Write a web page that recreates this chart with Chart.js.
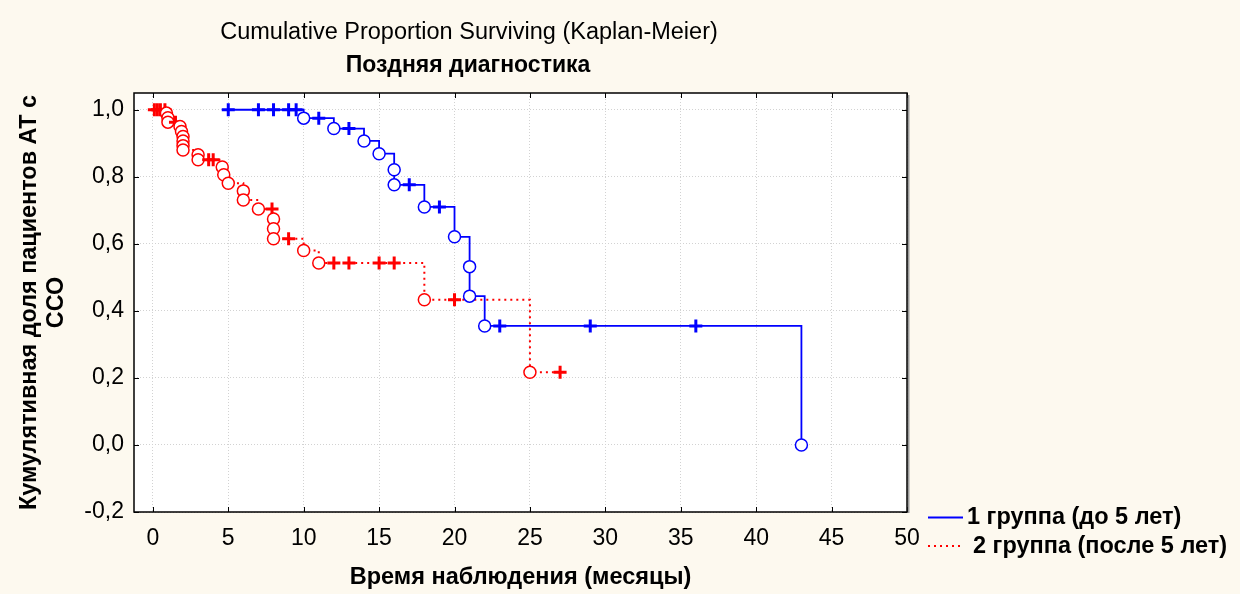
<!DOCTYPE html>
<html>
<head>
<meta charset="utf-8">
<script src="https://cdn.jsdelivr.net/npm/chart.js@4/dist/chart.umd.min.js"></script>
<style>
  html, body { margin: 0; padding: 0; background: #fdf9ef; }
  #wrap { width: 1240px; height: 594px; }
</style>
</head>
<body>
<div id="wrap"><canvas id="chartKM" width="1240" height="594"></canvas></div>
<script>
// Kaplan-Meier, поздняя диагностика
'use strict';

// 1 группа (до 5 лет): время, доля, 1 = цензурировано
var blueTime = [5, 7, 8, 9, 9.5, 10, 11, 12, 13, 14, 15, 16, 16, 17, 18, 19, 20, 21, 21, 22, 23, 29, 36, 43];
var blueSurv = [1, 1, 1, 1, 1, 0.975, 0.975, 0.944, 0.944, 0.907, 0.869, 0.821, 0.776, 0.776, 0.710, 0.710, 0.621, 0.532, 0.444, 0.355, 0.355, 0.355, 0.355, 0];
var blueCens = [1, 1, 1, 1, 1, 0, 1, 0, 1, 0, 0, 0, 0, 1, 0, 1, 0, 0, 0, 0, 1, 1, 1, 0];

// 2 группа (после 5 лет)
var redTime = [0.1, 0.3, 0.5, 0.8, 0.9, 1.0, 1.0, 1.5, 1.8, 1.9, 2, 2, 2, 2, 3, 3, 3.7, 4.0, 4.6, 4.7, 5.0, 6, 6, 7, 7.9, 8, 8, 8, 9, 10, 11, 12, 13, 15, 16, 18, 20, 25, 27];
var redSurv = [1, 1, 1, 1, 0.99, 0.976, 0.963, 0.963, 0.950, 0.935, 0.920, 0.907, 0.893, 0.880, 0.866, 0.851, 0.851, 0.851, 0.829, 0.806, 0.781, 0.758, 0.731, 0.704, 0.704, 0.674, 0.645, 0.615, 0.615, 0.580, 0.543, 0.543, 0.543, 0.543, 0.543, 0.433, 0.433, 0.217, 0.217];
var redCens = [1, 1, 1, 1, 0, 0, 0, 1, 0, 0, 0, 0, 0, 0, 0, 0, 1, 1, 0, 0, 0, 0, 0, 0, 1, 0, 0, 0, 1, 0, 0, 1, 1, 1, 1, 0, 1, 0, 1];

var xTicks = [0, 5, 10, 15, 20, 25, 30, 35, 40, 45, 50];
var yTicks = [-0.2, 0, 0.2, 0.4, 0.6, 0.8, 1.0];

var seriesNames = ['1 группа (до 5 лет)', '2 группа (после 5 лет)'];
var titleText = 'Cumulative Proportion Surviving (Kaplan-Meier)';
var subtitleText = 'Поздняя диагностика';
var xTitle = 'Время наблюдения (месяцы)';
var yTitle = ['Кумулятивная доля пациентов АТ с', 'ССО'];

var FONT = 'Arial, "Liberation Sans", sans-serif';

function toPoints(t, s) {
    return t.map(function (v, i) { return { x: v, y: s[i] }; });
}

function kmDataset(label, t, s, c, color, dash) {
    return {
        label: label,
        data: toPoints(t, s),
        borderColor: color,
        borderWidth: dash ? 2 : 1.8,
        borderDash: dash || [],
        stepped: 'before',
        fill: false,
        pointStyle: c.map(function (v) { return v ? 'cross' : 'circle'; }),
        pointRadius: c.map(function (v) { return v ? 6.5 : 6; }),
        pointBorderWidth: c.map(function (v) { return v ? 3 : 1.5; }),
        pointBorderColor: color,
        pointBackgroundColor: '#ffffff',
        pointHoverRadius: 6
    };
}

var bgPlugin = {
    id: 'bgPlugin',
    beforeDraw: function (chart) {
        var ctx = chart.ctx, a = chart.chartArea;
        ctx.save();
        ctx.fillStyle = '#fdf9ef';
        ctx.fillRect(0, 0, chart.width, chart.height);
        ctx.fillStyle = '#ffffff';
        ctx.fillRect(a.left, a.top, a.right - a.left, a.bottom - a.top);
        ctx.restore();
    }
};

var framePlugin = {
    id: 'framePlugin',
    afterDraw: function (chart) {
        var ctx = chart.ctx, a = chart.chartArea;
        var xs = chart.scales.x, ys = chart.scales.y;
        ctx.save();
        // ticks inside the frame
        ctx.strokeStyle = '#000';
        ctx.lineWidth = 1;
        ctx.beginPath();
        xTicks.forEach(function (v) {
            var px = Math.round(xs.getPixelForValue(v)) + 0.5;
            ctx.moveTo(px, a.top); ctx.lineTo(px, a.top + 5);
            ctx.moveTo(px, a.bottom); ctx.lineTo(px, a.bottom - 5);
        });
        yTicks.forEach(function (v) {
            var py = Math.round(ys.getPixelForValue(v)) + 0.5;
            ctx.moveTo(a.left, py); ctx.lineTo(a.left + 5, py);
            ctx.moveTo(a.right, py); ctx.lineTo(a.right - 5, py);
        });
        ctx.stroke();
        // shadow on the right
        ctx.strokeStyle = '#9a9a9a';
        ctx.lineWidth = 2;
        ctx.beginPath();
        ctx.moveTo(a.right + 1.5, a.top + 2);
        ctx.lineTo(a.right + 1.5, a.bottom + 1);
        ctx.stroke();
        // frame
        ctx.strokeStyle = '#000';
        ctx.lineWidth = 1.5;
        ctx.strokeRect(a.left, a.top, a.right - a.left, a.bottom - a.top);

        // titles
        ctx.fillStyle = '#000';
        ctx.textAlign = 'center';
        ctx.textBaseline = 'middle';
        ctx.font = '23.5px ' + FONT;
        ctx.fillText(titleText, 469, 33);
        ctx.font = 'bold 23px ' + FONT;
        ctx.fillText(subtitleText, 468, 66);

        // legend
        ctx.lineWidth = 2;
        ctx.strokeStyle = 'rgb(0,0,255)';
        ctx.beginPath();
        ctx.moveTo(928, 517.5); ctx.lineTo(963, 517.5);
        ctx.stroke();
        ctx.strokeStyle = 'rgb(255,0,0)';
        ctx.setLineDash([2, 4]);
        ctx.beginPath();
        ctx.moveTo(928, 546); ctx.lineTo(960, 546);
        ctx.stroke();
        ctx.setLineDash([]);
        ctx.textAlign = 'left';
        ctx.font = 'bold 23.5px ' + FONT;
        ctx.fillText(seriesNames[0], 967, 518);
        ctx.fillText(seriesNames[1], 973, 547);
        ctx.restore();
    }
};

var CHARTKM = document.getElementById('chartKM');

var chartKM = new Chart(CHARTKM, {
    type: 'line',
    data: {
        datasets: [
            kmDataset(seriesNames[0], blueTime, blueSurv, blueCens, 'rgb(0,0,255)', null),
            kmDataset(seriesNames[1], redTime, redSurv, redCens, 'rgb(255,0,0)', [2, 4])
        ]
    },
    options: {
        responsive: false,
        animation: false,
        devicePixelRatio: 1,
        layout: { padding: { top: 93, right: 333, left: 0, bottom: 0 } },
        plugins: {
            legend: { display: false },
            tooltip: { enabled: false }
        },
        scales: {
            x: {
                type: 'linear',
                min: -1.25,
                max: 50,
                afterBuildTicks: function (scale) {
                    scale.ticks = xTicks.map(function (v) { return { value: v }; });
                },
                afterFit: function (scale) { scale.height = 82; },
                grid: { color: '#d2d2d2', lineWidth: 1, drawTicks: false },
                border: { display: false, dash: [1, 2] },
                ticks: {
                    padding: 13,
                    color: '#000',
                    font: { family: FONT, size: 23 },
                    maxRotation: 0,
                    callback: function (v) { return String(v); }
                },
                title: {
                    display: true,
                    text: xTitle,
                    color: '#000',
                    font: { family: FONT, size: 23.5, weight: 'bold', lineHeight: 1.2 },
                    padding: { top: 0, bottom: 2 }
                }
            },
            y: {
                type: 'linear',
                min: -0.2,
                max: 1.05,
                afterBuildTicks: function (scale) {
                    scale.ticks = yTicks.map(function (v) { return { value: v }; });
                },
                afterFit: function (scale) { scale.width = 134; },
                grid: { color: '#d2d2d2', lineWidth: 1, drawTicks: false },
                border: { display: false, dash: [1, 2] },
                ticks: {
                    padding: 10,
                    color: '#000',
                    font: { family: FONT, size: 23 },
                    callback: function (v) { return v.toFixed(1).replace('.', ','); }
                },
                title: {
                    display: true,
                    text: yTitle,
                    color: '#000',
                    font: { family: FONT, size: 23.4, weight: 'bold', lineHeight: 1.154 },
                    padding: { top: 16.5, bottom: 0 }
                }
            }
        }
    },
    plugins: [bgPlugin, framePlugin]
});
</script>
</body>
</html>
